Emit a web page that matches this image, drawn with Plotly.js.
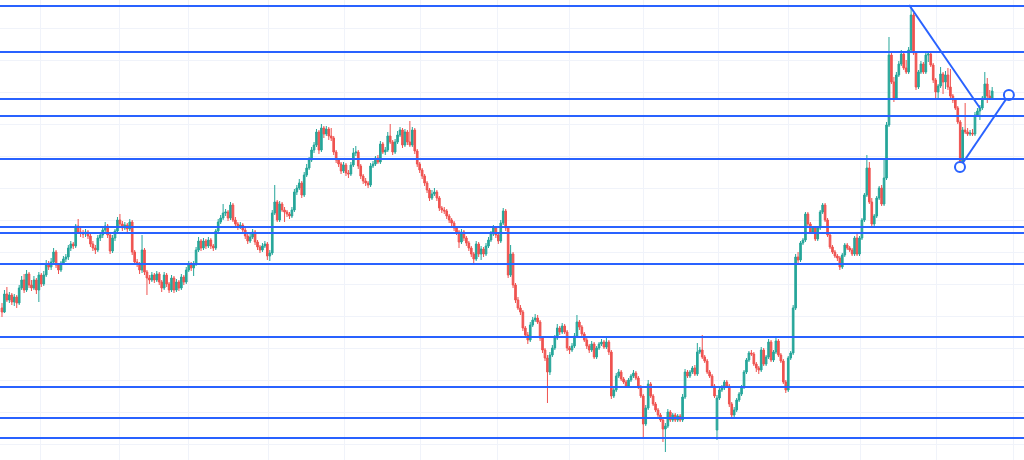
<!DOCTYPE html>
<html>
<head>
<meta charset="utf-8">
<script src="https://cdn.plot.ly/plotly-3.0.1.min.js"></script>
<style>html,body{margin:0;padding:0;background:#fff;}#chart{width:1024px;height:460px;}</style>
</head>
<body>
<div id="chart"></div>
<script>
// Daily candles (price units; no price scale is shown in the chart)
const opens = [
152,148,166,160,165,158,163,157,172,180, 170,186,175,172,180,170,185,176,185,196,
193,198,208,195,190,197,201,203,212,216, 214,234,228,227,226,228,224,216,212,210,
222,225,230,234,225,209,222,229,240,236, 232,235,231,238,208,198,196,190,210,188,
182,180,185,180,186,178,172,185,176,170, 182,170,178,172,183,178,190,196,192,196,
210,219,212,219,214,220,214,212,229,238, 242,247,248,242,255,240,236,233,235,230,
224,219,223,228,218,213,210,214,216,204, 207,247,258,240,256,250,248,246,244,250,
268,272,277,265,285,292,300,310,315,328, 310,332,326,331,324,322,308,300,296,289,
295,287,286,295,307,308,294,284,279,277, 275,294,296,302,298,316,308,310,324,318,
308,318,325,330,315,328,318,315,330,309, 296,290,284,277,270,262,266,268,262,252,
250,249,244,240,237,232,228,218,228,222, 217,212,206,201,216,206,211,206,214,220,
226,232,225,219,237,249,232,185,206,175, 160,152,148,132,125,120,135,140,142,138,
122,110,102,88,105,112,122,132,128,134, 128,112,110,114,124,138,133,126,120,114,
110,116,103,112,116,118,113,118,108,64, 70,84,88,81,78,74,80,84,87,82,
73,64,36,52,76,64,56,50,45,40, 31,34,48,40,45,40,44,40,63,88,
84,88,92,86,108,110,103,99,88,84, 74,30,62,70,72,78,74,56,45,50,
60,66,73,88,100,107,106,96,92,90, 110,96,103,118,100,108,119,105,99,78,
70,102,107,152,203,200,217,220,246,236, 228,232,221,232,248,255,240,225,213,208,
204,202,193,205,215,212,210,206,222,206, 222,240,265,292,258,236,244,262,272,256,
282,335,405,378,362,385,396,406,392,388, 410,445,407,373,388,396,388,405,406,395,
380,368,374,386,378,385,373,364,360,352, 338,298,330,328,326,327,326,345,349,352,
362,376,364,362
];
const highs = [
157,170,173,168,167,166,165,175,184,186, 190,188,180,184,182,188,187,189,200,199,
202,212,210,197,199,204,206,215,219,218, 236,241,232,230,231,230,226,219,215,225,
227,233,238,236,228,225,231,243,246,239, 238,237,241,240,210,201,198,225,212,190,
185,188,187,189,188,180,188,187,178,185, 184,181,180,186,185,193,199,198,199,213,
223,221,222,221,223,222,216,231,241,245, 256,251,250,258,257,243,238,238,237,232,
227,226,231,230,220,215,217,219,218,210, 250,275,260,259,258,253,250,248,253,271,
275,281,279,288,296,303,313,318,331,330, 336,334,334,333,332,324,310,302,298,298,
297,290,298,312,314,310,296,286,282,279, 297,299,304,305,319,318,313,328,336,320,
321,329,333,332,331,330,339,333,332,311, 298,292,286,279,272,270,272,270,264,254,
253,251,246,242,239,234,230,231,230,224, 219,214,208,219,218,214,213,217,223,229,
235,234,227,240,252,251,234,215,208,177, 163,155,150,134,128,138,143,146,145,140,
124,112,105,108,115,125,136,134,137,136, 130,114,117,127,145,140,135,128,122,116,
119,118,114,118,121,120,124,120,110,73, 87,91,90,83,80,82,86,90,89,84,
75,66,55,80,78,66,58,52,47,42, 37,51,50,47,47,46,46,66,91,90,
90,94,95,117,113,125,105,101,90,86, 76,65,73,75,80,80,76,58,53,62,
68,75,90,102,109,110,108,98,94,113, 112,105,121,120,110,122,121,107,101,80,
104,109,155,206,208,219,222,248,248,238, 234,234,234,250,257,257,242,227,215,210,
206,204,207,217,217,214,212,224,226,224, 242,267,305,298,262,246,264,274,275,302,
338,423,407,383,388,399,410,408,400,413, 455,447,409,390,399,398,408,409,408,397,
382,376,393,388,389,392,391,366,362,354, 340,333,357,332,330,331,348,352,355,364,
388,382,370,373
];
const lows = [
143,147,158,157,155,154,152,155,170,167, 168,172,169,170,166,158,173,174,183,190,
190,195,192,186,188,195,198,200,209,211, 212,226,223,222,223,221,213,209,206,208,
219,222,228,222,206,207,219,227,233,229, 230,228,229,205,196,193,186,187,185,165,
176,178,177,178,175,168,170,173,167,168, 167,168,169,170,175,176,188,189,184,194,
208,209,210,211,212,211,209,210,227,236, 240,244,239,240,238,234,230,231,227,221,
216,217,221,215,210,207,208,212,200,199, 205,245,238,238,248,238,243,241,242,248,
265,270,262,263,283,290,298,307,313,306, 308,322,324,320,319,305,297,293,286,287,
284,282,284,293,304,291,281,276,274,272, 273,292,294,296,296,306,305,308,316,305,
306,316,323,312,313,315,313,313,306,293, 287,281,274,267,259,260,264,259,249,247,
246,241,237,234,229,225,212,216,219,214, 209,203,197,199,203,200,203,204,212,218,
224,222,216,217,235,229,182,183,172,157, 150,145,129,122,116,118,133,138,136,119,
107,99,57,85,103,110,120,125,126,126, 109,106,108,112,122,130,124,118,111,107,
108,101,101,110,114,111,111,105,61,62, 68,82,79,76,72,72,78,82,80,71,
62,23,34,50,62,54,48,43,38,18, 8,32,38,38,38,38,38,38,61,82,
82,86,84,84,106,101,97,86,82,72, 62,20,60,68,70,72,53,42,43,48,
58,64,71,86,98,104,94,88,86,88, 94,94,101,98,98,106,103,97,76,67,
68,100,105,150,196,198,215,218,234,226, 226,219,219,230,246,238,223,211,206,202,
199,190,191,203,210,208,204,204,204,204, 220,238,263,256,234,234,242,260,254,254,
280,333,376,358,360,383,394,390,386,386, 408,405,370,371,386,386,386,398,393,377,
362,362,372,366,371,370,362,357,350,336, 293,296,326,324,324,324,324,343,340,350,
360,357,360,360
];
const closes = [
148,166,160,165,158,163,157,172,180,170, 186,175,172,180,170,185,176,185,196,193,
198,208,195,190,197,201,203,212,216,214, 234,228,227,226,228,224,216,212,210,222,
225,230,234,225,209,222,229,240,236,232, 235,231,238,208,198,196,190,210,188,182,
180,185,180,186,178,172,185,176,170,182, 170,178,172,183,178,190,196,192,196,210,
219,212,219,214,220,214,212,229,238,242, 247,248,242,255,240,236,233,235,230,224,
219,223,228,218,213,210,214,216,204,207, 247,258,240,256,250,248,246,244,250,268,
272,277,265,285,292,300,310,315,328,310, 332,326,331,324,322,308,300,296,289,295,
287,286,295,307,308,294,284,279,277,275, 294,296,302,298,316,308,310,324,318,308,
318,325,330,315,328,318,315,330,309,296, 290,284,277,270,262,266,268,262,252,250,
249,244,240,237,232,228,218,228,222,217, 212,206,201,216,206,211,206,214,220,226,
232,225,219,237,249,232,185,206,175,160, 152,148,132,125,120,135,140,142,138,122,
110,102,88,105,112,122,132,128,134,128, 112,110,114,124,138,133,126,120,114,110,
116,103,112,116,118,113,118,108,64,70, 84,88,81,78,74,80,84,87,82,73,
64,36,52,76,64,56,50,45,40,31, 34,48,40,45,40,44,40,63,88,84,
88,92,86,108,110,103,99,88,84,74, 64,62,70,72,78,74,56,45,50,60,
66,73,88,100,107,106,96,92,90,110, 96,103,118,100,108,119,105,99,78,70,
102,107,152,203,200,217,220,246,236,228, 232,221,232,248,255,240,225,213,208,204,
202,193,205,215,212,210,206,222,206,222, 240,265,292,258,236,244,262,272,256,282,
335,405,378,362,385,396,406,392,388,410, 445,407,373,388,396,388,405,406,395,380,
368,374,386,378,385,373,364,360,352,338, 298,330,328,326,327,326,345,349,352,362,
376,364,362,369
];

// Horizontal support/resistance levels (same price units)
const levels = [454, 408, 361, 344, 301, 233, 227, 196, 123, 73, 42, 22];

// Drawn trend lines: bar index and price at each end
const trendDownX = [369.2, 398.0];
const trendDownY = [455, 352];
const trendUpX = [389.9, 409.8];
const trendUpY = [293, 365];

// Month-start gridline positions (bar index)
const monthTicks = [15.5, 48.0, 76.1, 108.3, 139.6, 170.5, 201.5, 230.8, 260.9, 291.8, 320.3, 349.6, 380.5, 411.5];

const barIdx = closes.map((_, i) => i);
const BLUE = '#2962ff';

const traces = [
  {
    type: 'candlestick',
    x: barIdx, open: opens, high: highs, low: lows, close: closes,
    increasing: {line: {color: '#26a69a', width: 1}, fillcolor: '#26a69a'},
    decreasing: {line: {color: '#ef5350', width: 1}, fillcolor: '#ef5350'},
    whiskerwidth: 0,
    hoverinfo: 'skip'
  },
  {
    type: 'scatter', mode: 'lines', x: trendDownX, y: trendDownY,
    line: {color: BLUE, width: 2}, hoverinfo: 'skip'
  },
  {
    type: 'scatter', mode: 'lines+markers', x: trendUpX, y: trendUpY,
    line: {color: BLUE, width: 2},
    marker: {symbol: 'circle', size: 10, color: '#ffffff', line: {color: BLUE, width: 2}},
    hoverinfo: 'skip'
  }
];

const shapes = levels.map(v => ({
  type: 'line', xref: 'paper', x0: 0, x1: 1, yref: 'y', y0: v, y1: v,
  line: {color: BLUE, width: 2}, layer: 'above'
}));

const layout = {
  width: 1024, height: 460,
  margin: {l: 0, r: 0, t: 0, b: 0, pad: 0},
  paper_bgcolor: '#ffffff', plot_bgcolor: '#ffffff',
  showlegend: false,
  boxgap: 0.05,
  xaxis: {
    type: 'linear', range: [-0.81, 415.95],
    tickmode: 'array', tickvals: monthTicks, showticklabels: false,
    showgrid: true, gridcolor: '#f0f3fa', gridwidth: 1,
    zeroline: false, showline: false, ticks: '',
    rangeslider: {visible: false}, fixedrange: true
  },
  yaxis: {
    range: [0, 460], tick0: 16, dtick: 32, showticklabels: false,
    showgrid: true, gridcolor: '#f0f3fa', gridwidth: 1,
    zeroline: false, showline: false, ticks: '', fixedrange: true
  },
  shapes: shapes
};

Plotly.newPlot('chart', traces, layout, {displayModeBar: false, staticPlot: true});
</script>
</body>
</html>
